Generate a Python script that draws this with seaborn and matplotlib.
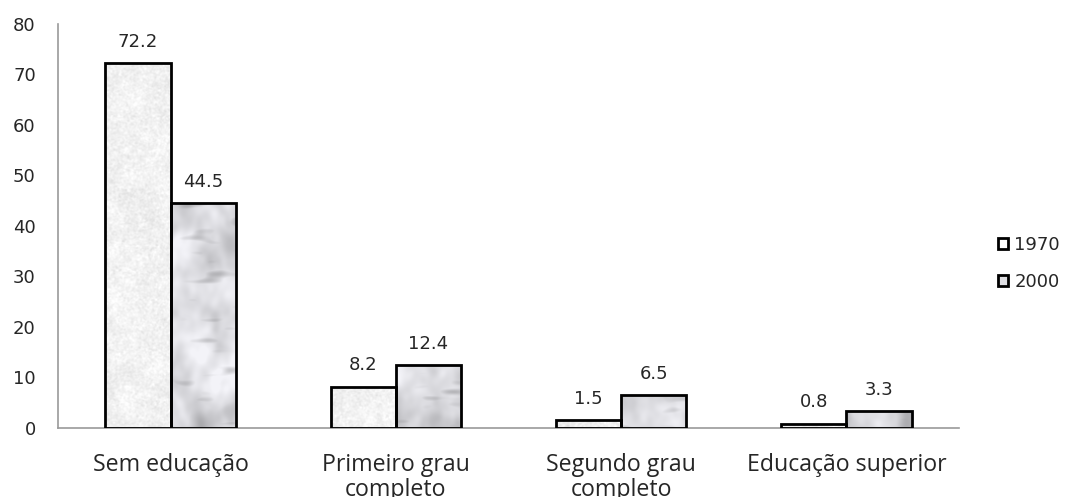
import numpy as np
import pandas as pd
import matplotlib
matplotlib.use("Agg")
import matplotlib.pyplot as plt
from matplotlib.patches import Patch
import seaborn as sns

# Education level of the population (%), 1970 vs 2000
categories = ["Sem educação", "Primeiro grau\ncompleto", "Segundo grau\ncompleto", "Educação superior"]
years = ["1970", "2000"]
values_1970 = [72.2, 8.2, 1.5, 0.8]
values_2000 = [44.5, 12.4, 6.5, 3.3]
y_ticks = [0, 10, 20, 30, 40, 50, 60, 70, 80]

df = pd.DataFrame({
    "categoria": categories * 2,
    "ano": [years[0]] * len(categories) + [years[1]] * len(categories),
    "valor": values_1970 + values_2000,
})

sns.set_theme(style="white")
plt.rcParams["font.family"] = ["DejaVu Sans"]

TEXT = "#262626"
AXIS = "#9a9a9a"
NUM_SIZE = 13

fig = plt.figure(figsize=(10.67, 4.97), dpi=100)
ax = fig.add_axes([58 / 1067, 1 - 428 / 497, (959 - 58) / 1067, (428 - 24) / 497])

sns.barplot(data=df, x="categoria", y="valor", hue="ano", hue_order=years,
            order=categories, width=0.58, gap=0, dodge=True, legend=False,
            palette=["white", "white"], edgecolor="black", linewidth=2.0,
            saturation=1, errorbar=None, ax=ax)

n = len(categories)
ax.set_xlim(-0.5, n - 0.5)
ax.set_ylim(0, 80)


# ---- stone-like textures for the bar fills ----
def blur(a, sy, sx):
    ny, nx = a.shape
    fy = np.fft.fftfreq(ny)[:, None]
    fx = np.fft.fftfreq(nx)[None, :]
    g = np.exp(-2 * (np.pi ** 2) * ((fy * sy) ** 2 + (fx * sx) ** 2))
    return np.real(np.fft.ifft2(np.fft.fft2(a) * g))


def norm(a):
    a = a - a.mean()
    return a / (a.std() + 1e-9)


rng = np.random.default_rng(7)
H, W = 420, 920

# fine granite speckle (light)
fine = norm(blur(rng.standard_normal((H, W)), 0.7, 0.7))
soft = norm(blur(rng.standard_normal((H, W)), 5, 5))
granite = np.clip(0.95 + 0.018 * fine + 0.010 * soft, 0, 1)
granite_rgb = np.dstack([granite, granite, granite])

# white marble with soft grey clouds and streaks
low = norm(blur(rng.standard_normal((H, W)), 14, 10))
mid = norm(blur(rng.standard_normal((H, W)), 4, 3))
streak = norm(blur(rng.standard_normal((H, W)), 2.5, 8))
marble = (0.875 + 0.045 * low + 0.02 * mid
          - 0.09 * np.clip(streak - 0.7, 0, None)
          - 0.06 * np.clip(-low - 0.4, 0, None))
marble = np.clip(marble, 0.6, 0.97)
marble_rgb = np.clip(np.dstack([marble * 0.985, marble * 0.985, marble * 1.005]), 0, 1)

textures = [granite_rgb, marble_rgb]
for i, patch in enumerate(ax.patches[:2 * n]):
    tex = textures[i // n]
    patch.set_facecolor("none")
    patch.set_zorder(3)
    im = ax.imshow(tex, extent=(-0.5, n - 0.5, 0, 80), aspect="auto",
                   origin="lower", interpolation="bilinear", zorder=2)
    im.set_clip_path(patch)

ax.set_xlim(-0.5, n - 0.5)
ax.set_ylim(0, 80)

# value labels
for cont in ax.containers:
    ax.bar_label(cont, fmt="%.1f", padding=9, fontsize=NUM_SIZE, color=TEXT)

# axes styling
sns.despine(ax=ax, top=True, right=True)
for s in ("left", "bottom"):
    ax.spines[s].set_color(AXIS)
    ax.spines[s].set_linewidth(1.2)

ax.set_yticks(y_ticks)
ax.tick_params(axis="y", which="major", length=6, width=1.2, color=AXIS,
               direction="out", pad=10, labelsize=NUM_SIZE, labelcolor=TEXT)
ax.set_xticks(range(n))
ax.set_xticklabels(categories, fontfamily="Open Sans", fontsize=16.7, color=TEXT,
                   linespacing=1.08)
ax.tick_params(axis="x", which="major", length=0, pad=18)
ax.set_xticks(np.arange(-0.5, n, 1.0), minor=True)
ax.tick_params(axis="x", which="minor", length=6, width=1.2, color=AXIS, direction="out")
ax.set_xlabel("")
ax.set_ylabel("")
ax.grid(False)

# legend
handles = [Patch(facecolor="white", edgecolor="black", linewidth=2.0),
           Patch(facecolor="#dedee2", edgecolor="black", linewidth=2.0)]
fig.legend(handles, years, loc="center left", bbox_to_anchor=(998 / 1067, 1 - 263.5 / 497),
           bbox_transform=fig.transFigure, frameon=False, fontsize=NUM_SIZE,
           handlelength=0.55, handleheight=0.55, handletextpad=0.35,
           labelspacing=1.05, borderpad=0, borderaxespad=0, labelcolor=TEXT)

fig.savefig("out.png", dpi=100)
